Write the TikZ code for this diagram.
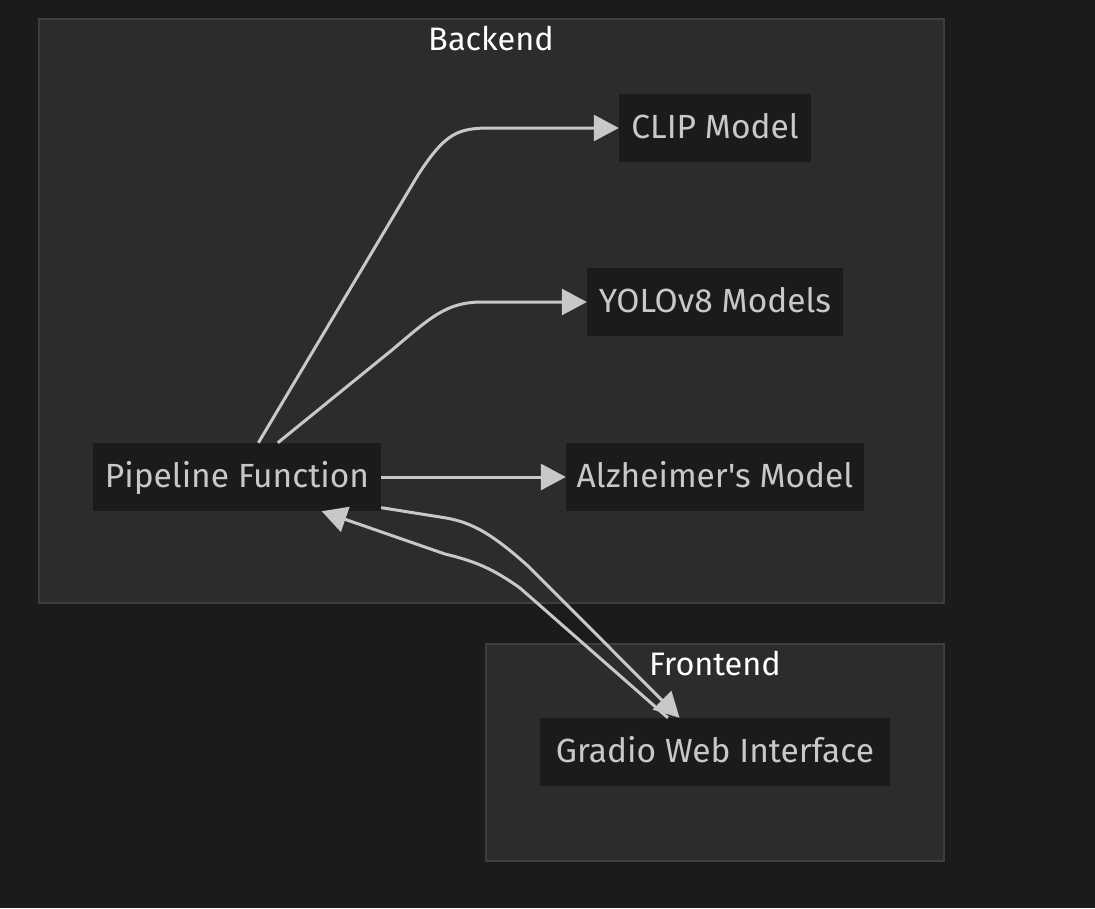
\documentclass[tikz,border=0pt]{standalone}
\usepackage{fontspec}
\setmainfont{Fira Sans}[Ligatures=TeXOff]
\usetikzlibrary{arrows.meta}
\definecolor{bgc}{HTML}{1B1B1B}
\definecolor{clfill}{HTML}{2C2C2C}
\definecolor{clborder}{HTML}{3A4042}
\definecolor{nodefill}{HTML}{1B1B1B}
\definecolor{nodetext}{HTML}{C8C8C8}
\definecolor{edgec}{HTML}{C8C8C8}
\tikzset{
  clusterbox/.style={draw=clborder, fill=clfill, line width=1.5pt},
  proc/.style={fill=nodefill, text=nodetext, minimum height=68pt, inner sep=0pt,
    text height=27pt, text depth=7pt,
    font=\fontsize{33.5}{38}\selectfont, anchor=center},
  ctitle/.style={text=white, font=\fontsize{32.5}{38}\selectfont, inner sep=0pt},
  edge/.style={draw=edgec, line width=3pt, -{Triangle[length=25pt,width=26pt]}},
}
\begin{document}
\begin{tikzpicture}[x=1pt,y=-1pt]
\fill[bgc] (0,0) rectangle (1095,908);
\useasboundingbox (0,0) rectangle (1095,908);
% clusters
\draw[clusterbox] (39,19) rectangle (944,603);
\node[ctitle] (tback) at (491,39) {Backend};
\draw[clusterbox] (486,644) rectangle (944,861);
\node[ctitle] (tfront) at (715,663) {Frontend};
% nodes
\node[proc, minimum width=192pt] (clip) at (715,128) {CLIP Model};
\node[proc, minimum width=256pt] (yolo) at (715,302) {YOLOv8 Models};
\node[proc, minimum width=298pt] (alz) at (715,477) {Alzheimer's Model};
\node[proc, minimum width=288pt] (pipe) at (237,477) {Pipeline Function};
\node[proc, minimum width=350pt] (gradio) at (715,752) {Gradio Web Interface};
% edges
\draw[edge] (pipe.58) -- (418,175) .. controls (446,132) and (458,128) .. (492,128) -- (clip.west);
\draw[edge] (pipe.40) -- (392,350) .. controls (430,318) and (446,302) .. (482,302) -- (yolo.west);
\draw[edge] (pipe.east) -- (alz.west);
\draw[edge] (pipe.-12) -- (440,517) .. controls (468,521) and (488,530) .. (528,566) -- (gradio.136);
\draw[edge] (gradio.144) -- (520,588) .. controls (492,568) and (474,561) .. (445,554) -- (pipe.-22);
\end{tikzpicture}
\end{document}
